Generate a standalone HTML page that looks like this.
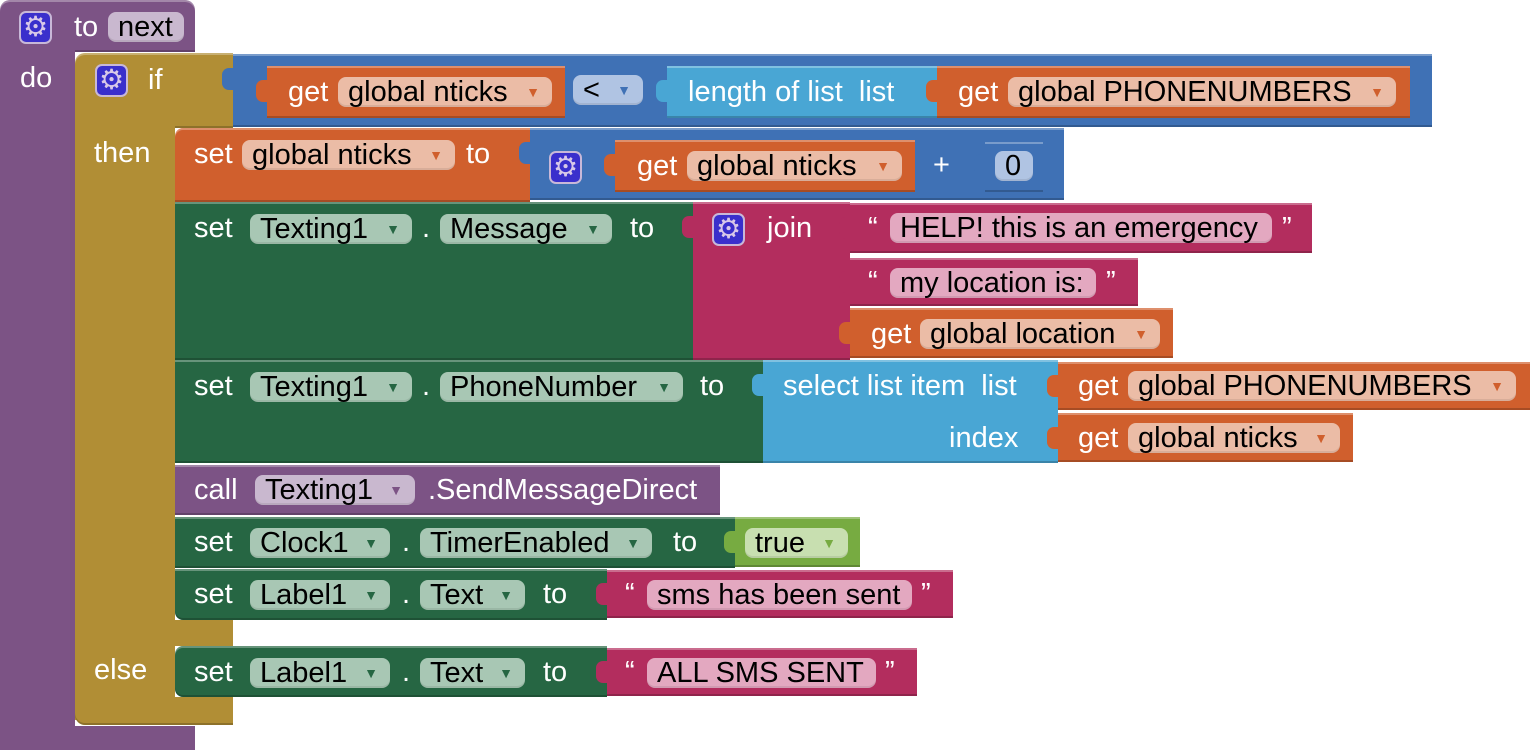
<!DOCTYPE html>
<html><head><meta charset="utf-8"><style>
body{margin:0;width:1530px;height:750px;background:#fff;position:relative;overflow:hidden;font-family:"Liberation Sans",sans-serif;}
div{position:absolute;box-sizing:border-box;}
.b{box-shadow:inset 0 2px 0 rgba(255,255,255,.3),inset 0 -2px 0 rgba(0,0,0,.2);}
.t{color:#fff;font-size:29px;line-height:30px;white-space:nowrap;}
.p{height:30px;border-radius:8px;font-size:29px;line-height:30px;color:#000;padding-left:10px;white-space:nowrap;box-shadow:inset 0 -2px 0 rgba(0,0,0,.08);}
.dd{position:absolute;right:12px;top:0;font-size:14px;}
.tab{width:12px;height:22px;border-radius:7px 0 0 7px;}
.pu{background:#7c5385}.go{background:#b18e35}.bl{background:#3f71b5}.or{background:#d05f2d}.lb{background:#49a6d4}.gr{background:#266643}.mg{background:#b32d5e}.lg{background:#77ab41}
.po{background:#ebbca6}.po .dd{color:#d05f2d}
.pg{background:#a8c7b4}.pg .dd{color:#266643}
.pm{background:#e3a8c0}
.pp{background:#c9b8cf}.pp .dd{color:#7c5385}
.gear{width:33px;height:33px;border-radius:7px;background:#3a2fcc;border:2px solid #c8b8d8;color:#d8c8e8;font-size:28px;line-height:28px;text-align:center}
</style></head><body>
<!-- procedure -->
<div class="pu b" style="left:0;top:0;width:195px;height:52px;border-radius:10px 10px 0 0"></div>
<div class="pu" style="left:0;top:40px;width:75px;height:710px"></div>
<div class="pu" style="left:0;top:726px;width:195px;height:24px"></div>
<div class="gear" style="left:19px;top:11px">⚙</div>
<div class="t" style="left:74px;top:12px">to</div>
<div class="p pp" style="left:108px;top:12px;width:76px">next</div>
<div class="t" style="left:20px;top:63px">do</div>
<!-- if -->
<div class="go b" style="left:75px;top:53px;width:158px;height:75px;border-radius:10px 0 0 0"></div>
<div class="go" style="left:75px;top:120px;width:100px;height:600px"></div>
<div class="go" style="left:75px;top:620px;width:158px;height:26px"></div>
<div class="go" style="left:75px;top:697px;width:158px;height:28px;border-radius:0 0 0 10px;box-shadow:inset 0 -2px 0 rgba(0,0,0,.2)"></div>
<div class="gear" style="left:95px;top:64px">⚙</div>
<div class="t" style="left:148px;top:65px">if</div>
<div class="t" style="left:94px;top:138px">then</div>
<div class="t" style="left:94px;top:655px">else</div>
<!-- compare -->
<div class="bl tab" style="left:222px;top:68px"></div>
<div class="bl b" style="left:233px;top:54px;width:1199px;height:73px"></div>
<div class="or tab" style="left:256px;top:80px"></div>
<div class="or b" style="left:267px;top:66px;width:298px;height:52px"></div>
<div class="t" style="left:288px;top:77px">get</div>
<div class="p po" style="left:338px;top:77px;width:214px">global nticks<span class="dd">▼</span></div>
<div class="p" style="left:573px;top:75px;width:70px;background:#b0c4e3">&lt;<span class="dd" style="color:#3f71b5">▼</span></div>
<div class="lb tab" style="left:656px;top:80px"></div>
<div class="lb b" style="left:667px;top:66px;width:270px;height:52px"></div>
<div class="t" style="left:688px;top:77px">length of list &nbsp;list</div>
<div class="or tab" style="left:926px;top:80px"></div>
<div class="or b" style="left:937px;top:66px;width:473px;height:52px"></div>
<div class="t" style="left:958px;top:77px">get</div>
<div class="p po" style="left:1008px;top:77px;width:388px">global PHONENUMBERS<span class="dd">▼</span></div>
<!-- set nticks -->
<div class="or b" style="left:175px;top:128px;width:355px;height:74px;border-radius:8px 0 0 0"></div>
<div class="t" style="left:194px;top:139px">set</div>
<div class="p po" style="left:242px;top:140px;width:213px">global nticks<span class="dd">▼</span></div>
<div class="t" style="left:466px;top:139px">to</div>
<div class="bl tab" style="left:519px;top:142px"></div>
<div class="bl b" style="left:530px;top:128px;width:534px;height:72px"></div>
<div class="gear" style="left:549px;top:151px">⚙</div>
<div class="or tab" style="left:604px;top:154px"></div>
<div class="or b" style="left:615px;top:140px;width:300px;height:52px"></div>
<div class="t" style="left:637px;top:151px">get</div>
<div class="p po" style="left:687px;top:151px;width:215px">global nticks<span class="dd">▼</span></div>
<div class="t" style="left:933px;top:150px">+</div>
<div class="bl tab" style="left:974px;top:154px"></div>
<div class="bl b" style="left:985px;top:142px;width:58px;height:50px"></div>
<div class="p" style="left:995px;top:151px;width:38px;background:#b0c4e3">0</div>
<!-- set message -->
<div class="gr b" style="left:175px;top:202px;width:518px;height:158px"></div>
<div class="t" style="left:194px;top:213px">set</div>
<div class="p pg" style="left:250px;top:214px;width:162px">Texting1<span class="dd">▼</span></div>
<div class="t" style="left:422px;top:213px">.</div>
<div class="p pg" style="left:440px;top:214px;width:172px">Message<span class="dd">▼</span></div>
<div class="t" style="left:630px;top:213px">to</div>
<div class="mg tab" style="left:682px;top:216px"></div>
<div class="mg b" style="left:693px;top:202px;width:157px;height:158px"></div>
<div class="gear" style="left:712px;top:213px">⚙</div>
<div class="t" style="left:767px;top:213px">join</div>
<div class="mg tab" style="left:839px;top:217px"></div>
<div class="mg b" style="left:850px;top:203px;width:462px;height:50px"></div>
<div class="t" style="left:868px;top:213px">“</div>
<div class="p pm" style="left:890px;top:213px;width:382px">HELP! this is an emergency</div>
<div class="t" style="left:1282px;top:213px">”</div>
<div class="mg tab" style="left:839px;top:271px"></div>
<div class="mg b" style="left:850px;top:258px;width:288px;height:48px"></div>
<div class="t" style="left:868px;top:267px">“</div>
<div class="p pm" style="left:890px;top:268px;width:206px">my location is:</div>
<div class="t" style="left:1106px;top:267px">”</div>
<div class="or tab" style="left:839px;top:322px"></div>
<div class="or b" style="left:850px;top:308px;width:323px;height:50px"></div>
<div class="t" style="left:871px;top:319px">get</div>
<div class="p po" style="left:920px;top:319px;width:240px">global location<span class="dd">▼</span></div>
<!-- set phone -->
<div class="gr b" style="left:175px;top:360px;width:588px;height:103px"></div>
<div class="t" style="left:194px;top:371px">set</div>
<div class="p pg" style="left:250px;top:372px;width:162px">Texting1<span class="dd">▼</span></div>
<div class="t" style="left:422px;top:371px">.</div>
<div class="p pg" style="left:440px;top:372px;width:243px">PhoneNumber<span class="dd">▼</span></div>
<div class="t" style="left:700px;top:371px">to</div>
<div class="lb tab" style="left:752px;top:374px"></div>
<div class="lb b" style="left:763px;top:360px;width:295px;height:103px"></div>
<div class="t" style="left:783px;top:371px">select list item &nbsp;list</div>
<div class="t" style="left:949px;top:423px">index</div>
<div class="or tab" style="left:1047px;top:375px"></div>
<div class="or b" style="left:1058px;top:362px;width:472px;height:48px"></div>
<div class="t" style="left:1078px;top:371px">get</div>
<div class="p po" style="left:1128px;top:371px;width:388px">global PHONENUMBERS<span class="dd">▼</span></div>
<div class="or tab" style="left:1047px;top:427px"></div>
<div class="or b" style="left:1058px;top:413px;width:295px;height:49px"></div>
<div class="t" style="left:1078px;top:423px">get</div>
<div class="p po" style="left:1128px;top:423px;width:212px">global nticks<span class="dd">▼</span></div>
<!-- call -->
<div class="pu b" style="left:175px;top:465px;width:545px;height:50px"></div>
<div class="t" style="left:194px;top:475px">call</div>
<div class="p pp" style="left:255px;top:475px;width:160px">Texting1<span class="dd">▼</span></div>
<div class="t" style="left:428px;top:475px">.SendMessageDirect</div>
<!-- clock -->
<div class="gr b" style="left:175px;top:517px;width:560px;height:51px"></div>
<div class="t" style="left:194px;top:527px">set</div>
<div class="p pg" style="left:250px;top:528px;width:140px">Clock1<span class="dd">▼</span></div>
<div class="t" style="left:402px;top:527px">.</div>
<div class="p pg" style="left:420px;top:528px;width:232px">TimerEnabled<span class="dd">▼</span></div>
<div class="t" style="left:673px;top:527px">to</div>
<div class="lg tab" style="left:724px;top:531px"></div>
<div class="lg b" style="left:735px;top:517px;width:125px;height:50px"></div>
<div class="p" style="left:745px;top:528px;width:103px;background:#c8dfb0">true<span class="dd" style="color:#77ab41">▼</span></div>
<!-- label1 -->
<div class="gr b" style="left:175px;top:569px;width:432px;height:51px;border-radius:0 0 0 8px"></div>
<div class="t" style="left:194px;top:579px">set</div>
<div class="p pg" style="left:250px;top:580px;width:140px">Label1<span class="dd">▼</span></div>
<div class="t" style="left:402px;top:579px">.</div>
<div class="p pg" style="left:420px;top:580px;width:105px">Text<span class="dd">▼</span></div>
<div class="t" style="left:543px;top:579px">to</div>
<div class="mg tab" style="left:596px;top:583px"></div>
<div class="mg b" style="left:607px;top:570px;width:346px;height:48px"></div>
<div class="t" style="left:625px;top:579px">“</div>
<div class="p pm" style="left:647px;top:580px;width:265px">sms has been sent</div>
<div class="t" style="left:921px;top:579px">”</div>
<!-- else -->
<div class="gr b" style="left:175px;top:646px;width:432px;height:51px;border-radius:8px 0 0 8px"></div>
<div class="t" style="left:194px;top:657px">set</div>
<div class="p pg" style="left:250px;top:658px;width:140px">Label1<span class="dd">▼</span></div>
<div class="t" style="left:402px;top:657px">.</div>
<div class="p pg" style="left:420px;top:658px;width:105px">Text<span class="dd">▼</span></div>
<div class="t" style="left:543px;top:657px">to</div>
<div class="mg tab" style="left:596px;top:661px"></div>
<div class="mg b" style="left:607px;top:648px;width:310px;height:48px"></div>
<div class="t" style="left:625px;top:657px">“</div>
<div class="p pm" style="left:647px;top:658px;width:229px">ALL SMS SENT</div>
<div class="t" style="left:885px;top:657px">”</div>
</body></html>
